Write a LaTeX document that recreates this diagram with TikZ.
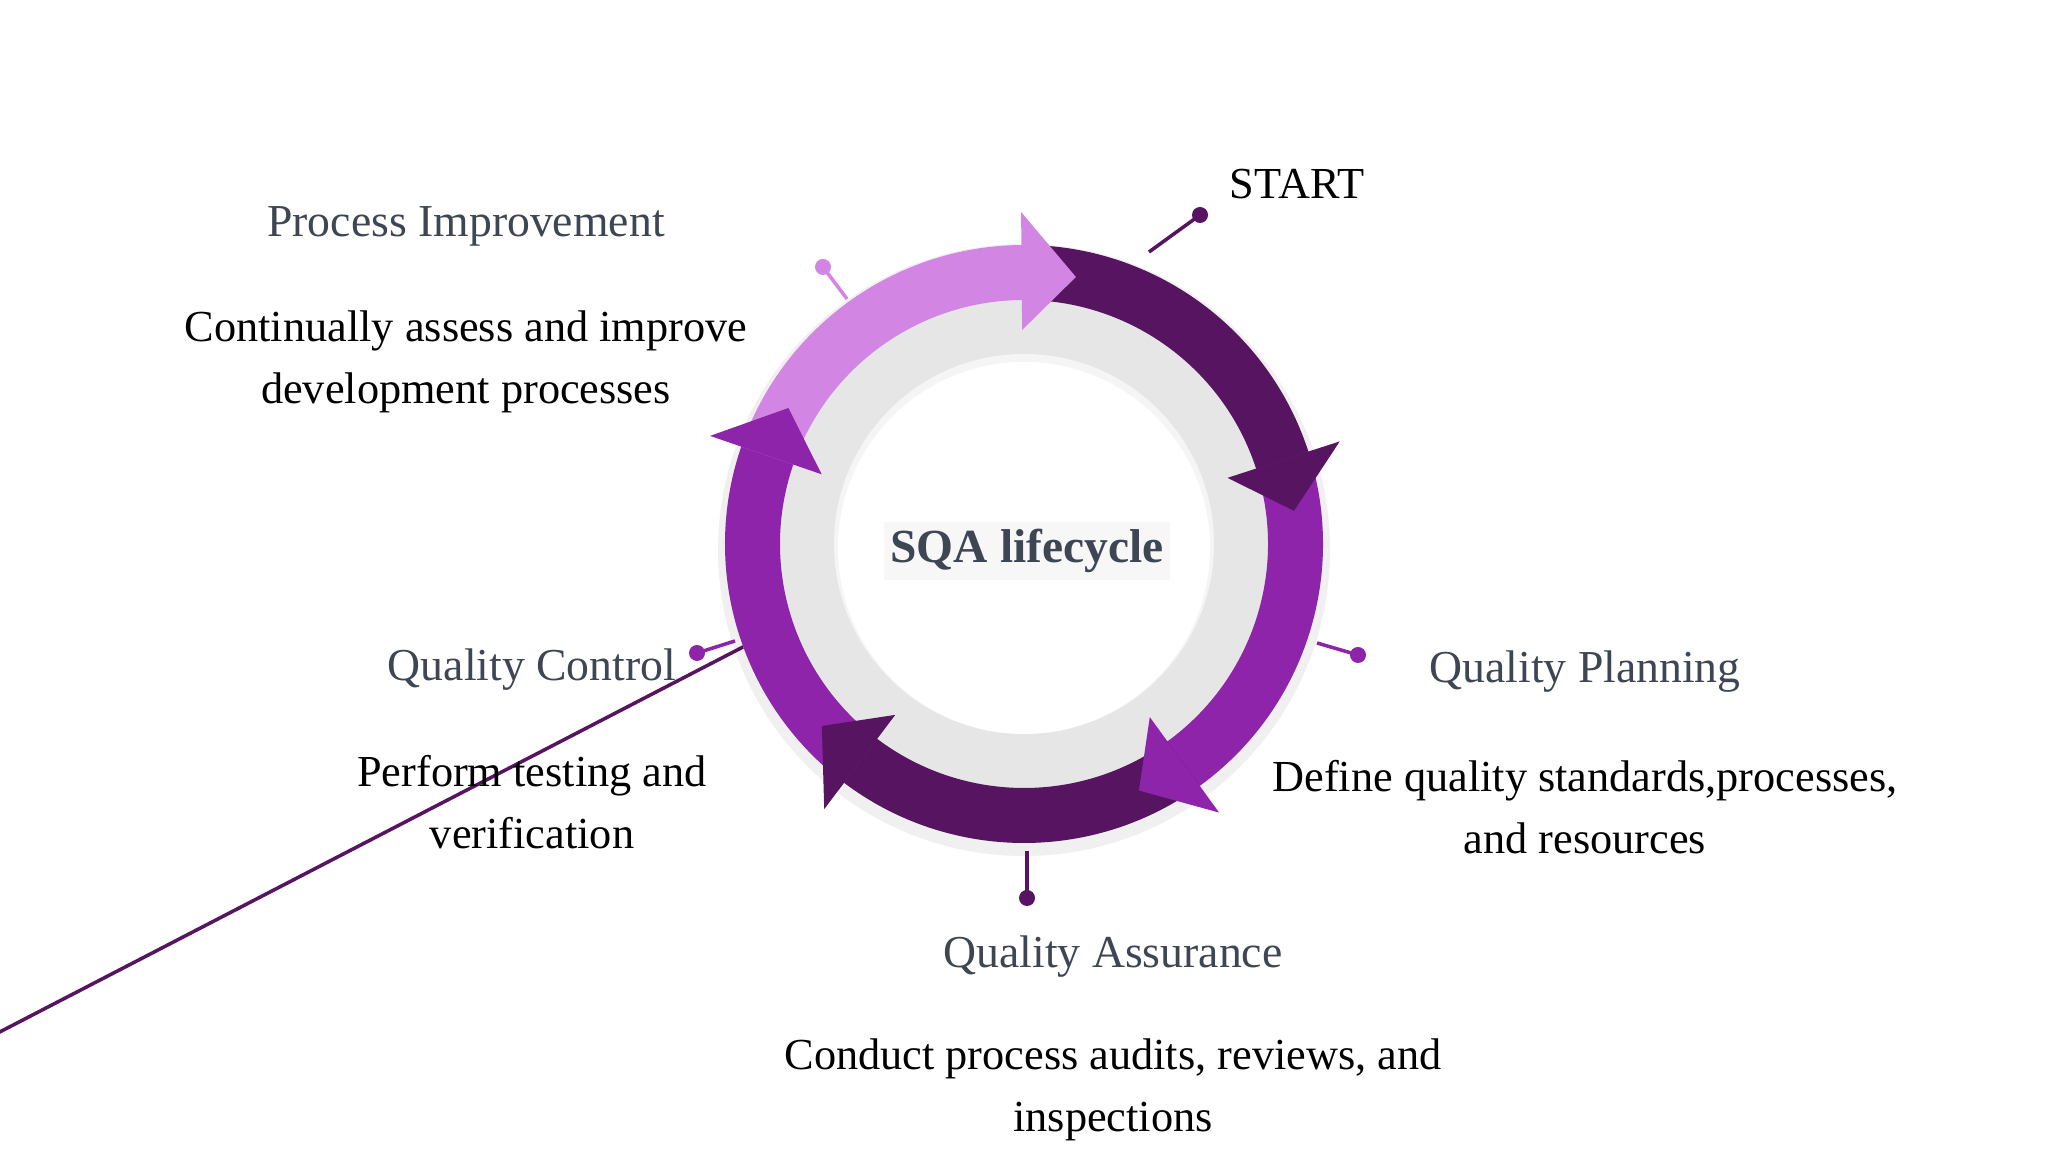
\documentclass[tikz,border=0pt]{standalone}
\usepackage{fontspec}
\setmainfont{Liberation Serif}
\definecolor{lightp}{HTML}{D385E3}
\definecolor{midp}{HTML}{8E24AA}
\definecolor{darkp}{HTML}{561461}
\definecolor{ringg}{HTML}{E6E6E6}
\definecolor{headc}{HTML}{3F4653}
\newcommand{\arcbody}[3]{\fill[#1] (#2:299) arc[start angle=#2,end angle=#3,radius=299] -- (#3:244) arc[start angle=#3,end angle=#2,radius=244] -- cycle;}
\newcommand{\archead}[3]{\fill[#1] (#2:214) -- (#2:332) -- (#3:272) -- cycle;}
\tikzset{
  headtxt/.style={font=\fontsize{13}{16}\selectfont, text=headc, align=center},
  bodytxt/.style={font=\fontsize{12.6}{17.8}\selectfont, text=black, align=center},
  pinline/.style={line width=1pt},
}
\begin{document}
\begin{tikzpicture}[x=0.01cm,y=0.01cm]
\useasboundingbox (0,0) rectangle (2048,1152);
\fill[white] (0,0) rectangle (2048,1152);
\begin{scope}[shift={(1024,608)}]
  \coordinate (c) at (0,0);
  % pins
  \coordinate (ps) at (35:285); \coordinate (pd) at (1200,937);
  \coordinate (pi) at (125:285); \coordinate (pid) at (823,885);
  \coordinate (pq) at (-15:290); \coordinate (pqd) at (1358,497);
  \coordinate (pa) at (-90:290); \coordinate (pad) at (1027,254);
  \coordinate (pc) at (195:290); \coordinate (pcd) at (697,499);
\end{scope}
\draw[pinline,darkp] (ps) -- ([xshift=-1024,yshift=-608]pd);
\begin{scope}[shift={(1024,608)}]
  \fill[black,opacity=0.06] (0,-6) circle (306);
  \fill[ringg] (0,0) circle (299);
  \fill[white] (0,0) circle (190);
  \fill[black,opacity=0.04] (0,0) circle (190);
  \fill[white] (0,-4) circle (186);
  \arcbody{darkp}{90.5}{17}
  \arcbody{midp}{18}{-55}
  \arcbody{darkp}{-54}{-128}
  \arcbody{midp}{-127}{-200}
  \arcbody{lightp}{161}{89.5}
  \archead{darkp}{18}{7}
  \archead{midp}{-54}{-65}
  \archead{darkp}{-127}{-138}
  \archead{midp}{161}{150}
  \archead{lightp}{90.5}{79}
\end{scope}
% pins drawn in absolute coords
\coordinate (s1) at (1149,900); \coordinate (s2) at (1200,937);
\coordinate (i1) at (847,853); \coordinate (i2) at (823,885);
\coordinate (q1) at (1317,509); \coordinate (q2) at (1358,497);
\coordinate (a1) at (1027,301); \coordinate (a2) at (1027,254);
\coordinate (k1) at (735,511); \coordinate (k2) at (697,499);
\draw[pinline,darkp] (s1) -- (s2); \fill[darkp] (s2) circle (8);
\draw[pinline,lightp] (i1) -- (i2); \fill[lightp] (i2) circle (8);
\draw[pinline,midp] (q1) -- (q2); \fill[midp] (q2) circle (8);
\draw[pinline,darkp] (a1) -- (a2); \fill[darkp] (a2) circle (8);
\draw[pinline,midp] (k1) -- (k2); \fill[midp] (k2) circle (8);
% texts
\node[fill=gray!6, inner sep=2pt, font=\fontsize{13.5}{16}\selectfont\bfseries, text=headc] (t) at (1027,601) {SQA lifecycle};
\node[font=\fontsize{12.6}{16}\selectfont] (start) at (1297,968) {START};
\node[headtxt] (h1) at (466,926) {Process Improvement};
\node[bodytxt] (b1) at (466,790) {Continually assess and improve\\development processes};
\node[headtxt] (h2) at (532,482) {Quality Control};
\node[bodytxt] (b2) at (532,350) {Perform testing and\\verification};
\node[headtxt] (h3) at (1585,480) {Quality Planning};
\node[bodytxt] (b3) at (1585,345) {Define quality standards,processes,\\and resources};
\node[headtxt] (h4) at (1113,195) {Quality Assurance};
\node[bodytxt] (b4) at (1113,62) {Conduct process audits, reviews, and\\inspections};
\end{tikzpicture}
\end{document}
